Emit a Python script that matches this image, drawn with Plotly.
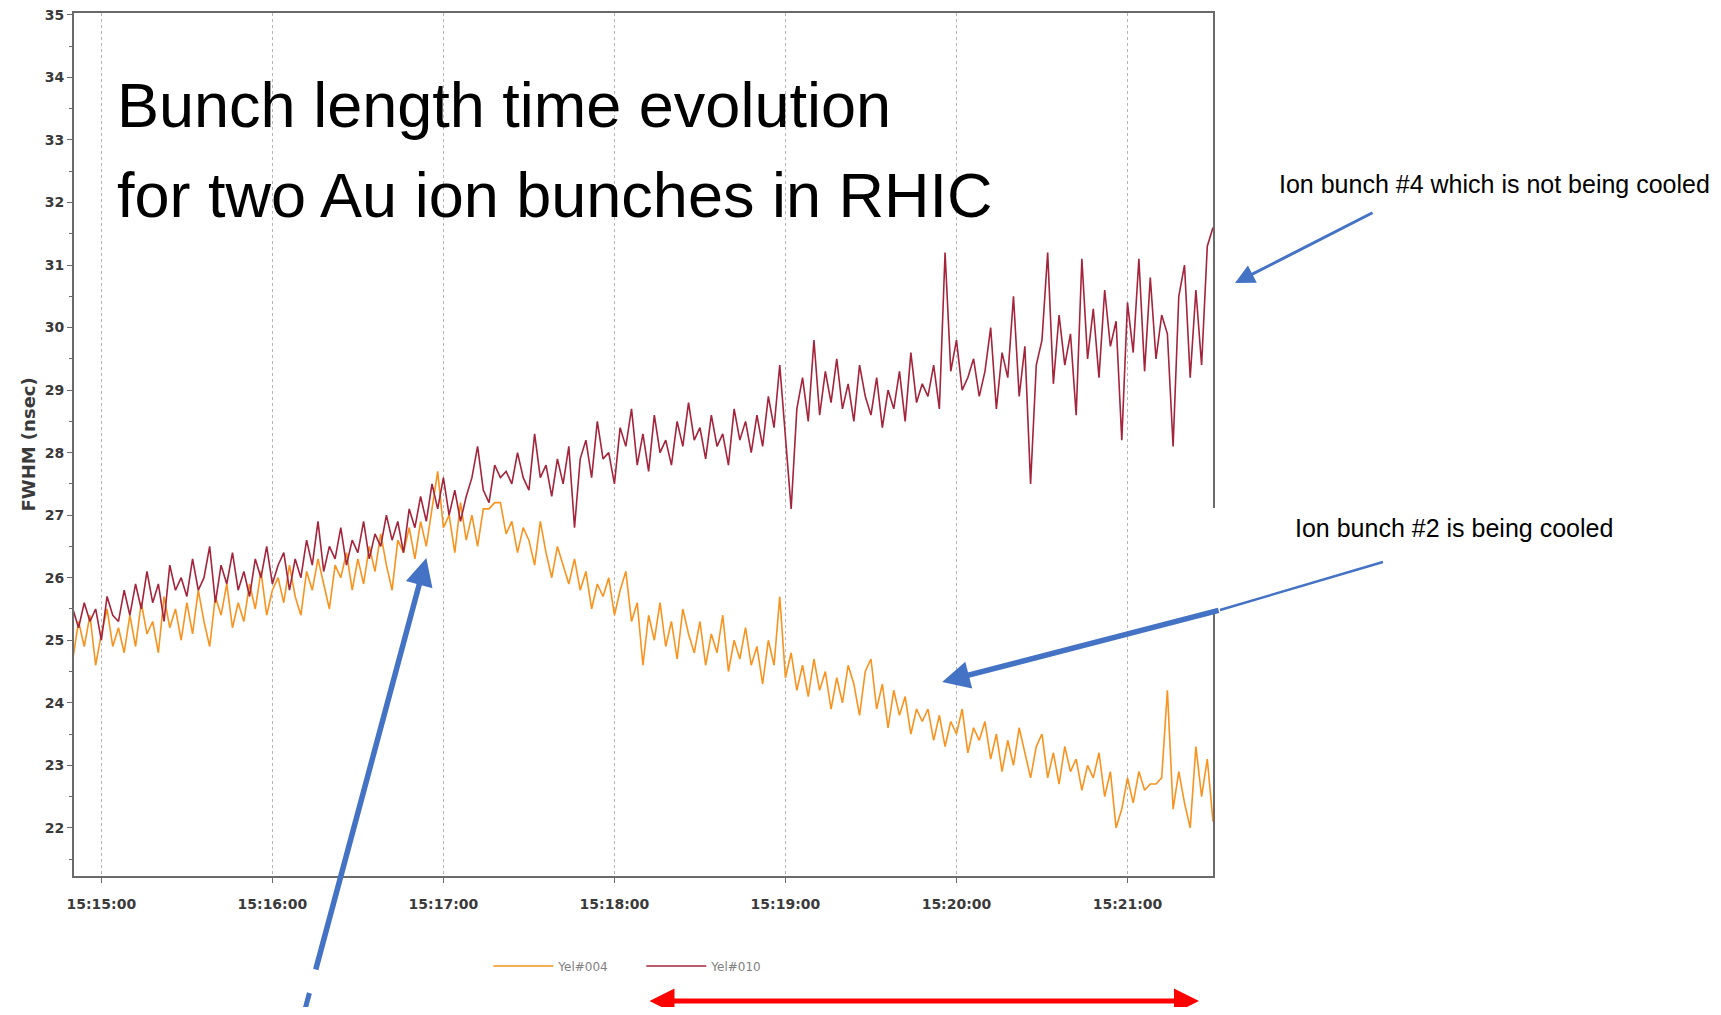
import pandas as pd
import plotly.graph_objects as go

# ---- data (2 s sampling, 15:14:50 .. 15:21:30) ----
t_start = "2000-01-01 15:14:50"
t_step = "2s"

yel004 = [
    24.7, 25.3, 24.9, 25.4, 24.6, 25.1, 25.5, 24.9, 25.2, 24.8,
    25.4, 24.9, 25.6, 25.1, 25.3, 24.8, 25.7, 25.2, 25.5, 25.0,
    25.6, 25.1, 25.8, 25.3, 24.9, 25.7, 25.4, 25.9, 25.2, 25.6,
    25.3, 25.9, 25.5, 26.1, 25.4, 25.8, 26.0, 25.6, 26.2, 25.7,
    25.4, 26.1, 25.8, 26.3, 25.9, 25.5, 26.2, 26.0, 26.4, 25.8,
    26.3, 25.9, 26.5, 26.1, 26.7, 26.2, 25.8, 26.6, 26.4, 26.8,
    26.3, 26.9, 26.5, 27.1, 27.7, 26.8, 27.0, 26.4, 27.2, 26.6,
    27.0, 26.5, 27.1, 27.1, 27.2, 27.2, 26.7, 26.9, 26.4, 26.8,
    26.6, 26.2, 26.9, 26.4, 26.0, 26.5, 26.2, 25.9, 26.3, 25.8,
    26.1, 25.5, 25.9, 25.7, 26.0, 25.4, 25.8, 26.1, 25.3, 25.6,
    24.6, 25.4, 25.0, 25.6, 24.9, 25.3, 24.7, 25.5, 25.1, 24.8,
    25.3, 24.6, 25.1, 24.8, 25.4, 24.5, 25.0, 24.7, 25.2, 24.6,
    24.9, 24.3, 25.0, 24.6, 25.7, 24.4, 24.8, 24.2, 24.6, 24.1,
    24.7, 24.2, 24.5, 23.9, 24.4, 24.0, 24.6, 24.3, 23.8, 24.5,
    24.7, 23.9, 24.3, 23.6, 24.2, 23.8, 24.1, 23.5, 23.9, 23.7,
    23.9, 23.4, 23.8, 23.3, 23.7, 23.5, 23.9, 23.2, 23.6, 23.4,
    23.7, 23.1, 23.5, 22.9, 23.4, 23.0, 23.6, 23.2, 22.8, 23.3,
    23.5, 22.8, 23.2, 22.7, 23.3, 22.9, 23.1, 22.6, 23.0, 22.8,
    23.2, 22.5, 22.9, 22.0, 22.3, 22.8, 22.4, 22.9, 22.6, 22.7,
    22.7, 22.8, 24.2, 22.3, 22.9, 22.4, 22.0, 23.3, 22.5, 23.1,
    22.1,
]

yel010 = [
    25.5, 25.2, 25.6, 25.3, 25.5, 25.0, 25.7, 25.4, 25.3, 25.8,
    25.4, 25.9, 25.5, 26.1, 25.6, 25.9, 25.3, 26.2, 25.8, 26.0,
    25.7, 26.3, 25.8, 26.0, 26.5, 25.6, 26.2, 25.9, 26.4, 25.8,
    26.1, 25.7, 26.3, 26.0, 26.5, 25.9, 26.2, 26.4, 25.8, 26.3,
    26.0, 26.6, 26.2, 26.9, 26.1, 26.5, 26.3, 26.8, 26.2, 26.6,
    26.4, 26.9, 26.3, 26.7, 26.5, 27.0, 26.6, 26.9, 26.4, 27.1,
    26.8, 27.3, 26.9, 27.5, 27.1, 27.6, 27.0, 27.4, 26.9, 27.3,
    27.6, 28.1, 27.4, 27.2, 27.8, 27.6, 27.7, 27.5, 28.0, 27.6,
    27.4, 28.3, 27.6, 27.8, 27.3, 27.9, 27.5, 28.1, 26.8, 27.9,
    28.2, 27.6, 28.5, 27.9, 28.0, 27.5, 28.4, 28.1, 28.7, 27.8,
    28.3, 27.7, 28.6, 28.0, 28.2, 27.8, 28.5, 28.1, 28.8, 28.2,
    28.4, 27.9, 28.6, 28.1, 28.3, 27.8, 28.7, 28.2, 28.5, 28.0,
    28.6, 28.1, 28.9, 28.4, 29.4, 28.3, 27.1, 28.7, 29.2, 28.5,
    29.8, 28.6, 29.3, 28.8, 29.5, 28.7, 29.1, 28.5, 29.4, 28.9,
    28.6, 29.2, 28.4, 29.0, 28.7, 29.3, 28.5, 29.6, 28.8, 29.1,
    28.9, 29.4, 28.7, 31.2, 29.3, 29.8, 29.0, 29.2, 29.5, 28.9,
    29.3, 30.0, 28.7, 29.6, 29.2, 30.5, 28.9, 29.7, 27.5, 29.4,
    29.8, 31.2, 29.1, 30.2, 29.4, 29.9, 28.6, 31.1, 29.5, 30.3,
    29.2, 30.6, 29.7, 30.1, 28.2, 30.4, 29.6, 31.1, 29.3, 30.8,
    29.5, 30.2, 29.9, 28.1, 30.5, 31.0, 29.2, 30.6, 29.4, 31.3,
    31.6,
]

series_names = ["Yel#004", "Yel#010"]
series_colors = ["#F7931E", "#A4243B"]

x_range = ["2000-01-01 15:14:50.4", "2000-01-01 15:21:30"]
y_range = [21.23, 35.03]
y_ticks = list(range(22, 36))

times = pd.date_range(t_start, periods=len(yel004), freq=t_step)

# ---- layout geometry (page pixels; the page body adds an 8 px margin) ----
OFF = 8
W, H = 1721 - 2 * OFF, 1015 - 2 * OFF
L, R, T, B = 73.5, 1213, 13, 876   # plot-area edges in page pixels


def xp(px):
    return (px - L) / (R - L)


def yp(py):
    return (B - py) / (B - T)


fig = go.Figure()
for name, vals, col in zip(series_names, [yel004, yel010], series_colors):
    fig.add_trace(go.Scatter(x=times, y=vals, mode="lines", name=name,
                             line=dict(color=col, width=1.6)))

tick_font = dict(family="DejaVu Sans", size=14, color="#3a3a3a", weight="bold")

fig.update_layout(
    width=W, height=H,
    margin=dict(l=L - OFF, r=W - (R - OFF), t=T - OFF, b=H - (B - OFF), autoexpand=False),
    paper_bgcolor="white", plot_bgcolor="white",
    showlegend=True,
    legend=dict(orientation="h", x=xp(488), y=yp(966), xanchor="left",
                yanchor="middle", entrywidth=78, entrywidthmode="pixels",
                itemwidth=60,
                font=dict(family="DejaVu Sans", size=12, color="#808080"),
                bgcolor="rgba(0,0,0,0)"),
    xaxis=dict(type="date", range=x_range, dtick=60000, tickformat="%H:%M:%S",
               tick0="2000-01-01 15:15:00",
               showgrid=True, gridcolor="#b5b5b5", griddash="dot", gridwidth=1,
               showline=True, linecolor="#6a6a6a", linewidth=2, mirror=True,
               ticks="outside", ticklen=5, tickcolor="#6a6a6a",
               ticklabelstandoff=9, tickfont=tick_font, zeroline=False),
    yaxis=dict(range=y_range, tickvals=y_ticks, showgrid=False,
               showline=True, linecolor="#6a6a6a", linewidth=2, mirror=True,
               ticks="outside", ticklen=5, tickcolor="#6a6a6a",
               ticklabeloverflow="allow",
               minor=dict(dtick=0.5, ticks="outside", ticklen=3, tickcolor="#6a6a6a"),
               tickfont=tick_font, zeroline=False),
)

# white patch that hides part of the right frame
fig.add_shape(type="rect", xref="paper", yref="paper", layer="above",
              x0=xp(1200), x1=xp(1721), y0=yp(609), y1=yp(508),
              fillcolor="white", line=dict(width=0))

blue = "#4472C4"
# thin lead-in of the "#2" arrow
fig.add_shape(type="line", xref="paper", yref="paper", layer="above",
              x0=xp(1383), y0=yp(562), x1=xp(1220), y1=yp(610),
              line=dict(color=blue, width=2.5))
# lower stub of the long arrow (below the legend gap)
fig.add_shape(type="line", xref="paper", yref="paper", layer="above",
              x0=xp(305), y0=yp(1008), x1=xp(309), y1=yp(993),
              line=dict(color=blue, width=5))


def arrow(head, tail, color, width, size=1.0, both=False):
    fig.add_annotation(xref="paper", yref="paper", x=xp(head[0]), y=yp(head[1]),
                       ax=tail[0] - head[0], ay=tail[1] - head[1],
                       axref="pixel", ayref="pixel", text="", showarrow=True,
                       arrowhead=2, arrowsize=size, arrowwidth=width,
                       arrowcolor=color, arrowside="end+start" if both else "end")


arrow((1235, 283), (1374, 212), blue, 3, 1.3)
arrow((942, 682), (1220, 610), blue, 5.5, 1.0)
arrow((426, 558), (315, 971), blue, 5.5, 1.0)
arrow((1199, 1001), (648, 1001), "#FF0000", 5, 1.0, both=True)

# title text inside the plot
title_font = dict(family="Liberation Sans, Arial, sans-serif", size=63, color="black")
fig.add_annotation(xref="paper", yref="paper", x=xp(115), y=yp(105),
                   xanchor="left", yanchor="middle", showarrow=False,
                   text="Bunch length time evolution", font=title_font)
fig.add_annotation(xref="paper", yref="paper", x=xp(115), y=yp(195),
                   xanchor="left", yanchor="middle", showarrow=False,
                   text="for two Au ion bunches in RHIC", font=title_font)

note_font = dict(family="Liberation Sans, Arial, sans-serif", size=25, color="black")
fig.add_annotation(xref="paper", yref="paper", x=xp(1277), y=yp(184),
                   xanchor="left", yanchor="middle", showarrow=False,
                   text="Ion bunch #4 which is not being cooled", font=note_font)
fig.add_annotation(xref="paper", yref="paper", x=xp(1293), y=yp(528),
                   xanchor="left", yanchor="middle", showarrow=False,
                   text="Ion bunch #2 is being cooled", font=note_font)

# y-axis title
fig.add_annotation(xref="paper", yref="paper", x=xp(27), y=yp(445),
                   xanchor="center", yanchor="middle", showarrow=False,
                   textangle=-90, text="FWHM (nsec)",
                   font=dict(family="DejaVu Sans", size=18, color="#3a3a3a", weight="bold"))

fig.write_html("out.html")
